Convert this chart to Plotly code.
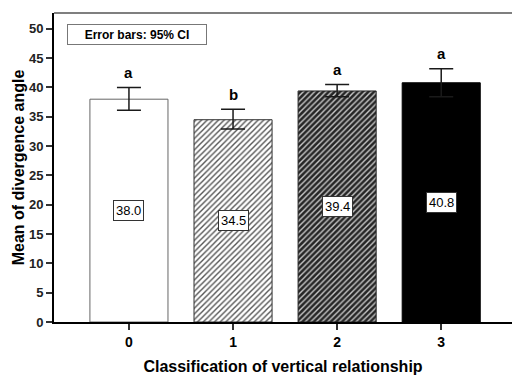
import plotly.graph_objects as go

categories = ["0", "1", "2", "3"]
means = [38.0, 34.5, 39.4, 40.8]
ci_upper = [40.0, 36.3, 40.5, 43.2]
ci_lower = [36.1, 32.9, 38.4, 38.4]
letters = ["a", "b", "a", "a"]
value_labels = ["38.0", "34.5", "39.4", "40.8"]
y_ticks = [0, 5, 10, 15, 20, 25, 30, 35, 40, 45, 50]

xpos = [int(c) for c in categories]

FONT = "Liberation Sans, Arial, sans-serif"

styles = [
    dict(color="white", line="#666666", shape="", bg="white", fg="white"),
    dict(color="white", line="#333333", shape="/", bg="white", fg="#555555"),
    dict(color="#262626", line="#222222", shape="/", bg="#262626", fg="#c8c8c8"),
    dict(color="black", line="black", shape="", bg="black", fg="black"),
]

fig = go.Figure()
for i, (x, m, u, l) in enumerate(zip(xpos, means, ci_upper, ci_lower)):
    s = styles[i]
    fig.add_trace(go.Bar(
        x=[x], y=[m], width=0.75,
        marker=dict(
            color=s["color"],
            line=dict(color=s["line"], width=1),
            pattern=dict(shape=s["shape"], bgcolor=s["bg"], fgcolor=s["fg"],
                         size=4, solidity=0.35, fillmode="replace"),
        ),
        error_y=dict(type="data", symmetric=False, array=[u - m], arrayminus=[m - l],
                     color="#1a1a1a", thickness=1.5, width=12),
        showlegend=False, hoverinfo="skip",
    ))

for x, u, t in zip(xpos, ci_upper, letters):
    fig.add_annotation(x=x, y=u, text="<b>%s</b>" % t, showarrow=False,
                       yanchor="middle", yshift=15,
                       font=dict(family=FONT, size=15, color="black"))

for x, m, t in zip(xpos, means, value_labels):
    fig.add_annotation(x=x, y=m / 2, text=t, showarrow=False,
                       bgcolor="white", bordercolor="#333333", borderwidth=1, borderpad=2,
                       font=dict(family=FONT, size=13, color="black"))

fig.add_annotation(xref="paper", yref="paper", x=0.181, y=0.930,
                   xanchor="center", yanchor="middle",
                   text="<b>Error bars: 95% CI</b>", showarrow=False,
                   width=134, height=15, bgcolor="white",
                   bordercolor="#777777", borderwidth=1, borderpad=2,
                   font=dict(family=FONT, size=12, color="black"))

fig.add_shape(type="line", xref="paper", yref="paper", x0=0, x1=1, y0=1, y1=1,
              line=dict(color="#555555", width=1.5))

fig.update_layout(
    width=512, height=376,
    margin=dict(l=54, r=0, t=13, b=54),
    barmode="overlay",
    paper_bgcolor="white", plot_bgcolor="white",
    font=dict(family=FONT, color="black"),
    xaxis=dict(range=[-0.72, 3.68], tickvals=xpos, ticktext=categories, automargin=False,
               showgrid=False, zeroline=False, showline=True, linecolor="black", linewidth=2,
               ticks="outside", ticklen=6, tickwidth=1.5, tickcolor="#333333",
               tickfont=dict(family=FONT, size=14, color="black", weight="bold"),
               title=dict(text="<b>Classification of vertical relationship</b>",
                          font=dict(family=FONT, size=16, color="black"), standoff=12)),
    yaxis=dict(range=[0, 52.7], tickvals=y_ticks, automargin=False,
               showgrid=False, zeroline=False, showline=True, linecolor="black", linewidth=2,
               ticks="outside", ticklen=6, tickwidth=1.5, tickcolor="#333333",
               tickfont=dict(family=FONT, size=13, color="#222222", weight="bold"),
               title=dict(text="<b>Mean of divergence angle</b>",
                          font=dict(family=FONT, size=16, color="black"), standoff=0)),
)

fig.write_html(
    "out.html",
    config={"displayModeBar": False},
    post_script="document.body.style.margin='0';document.body.style.overflow='hidden';",
)
